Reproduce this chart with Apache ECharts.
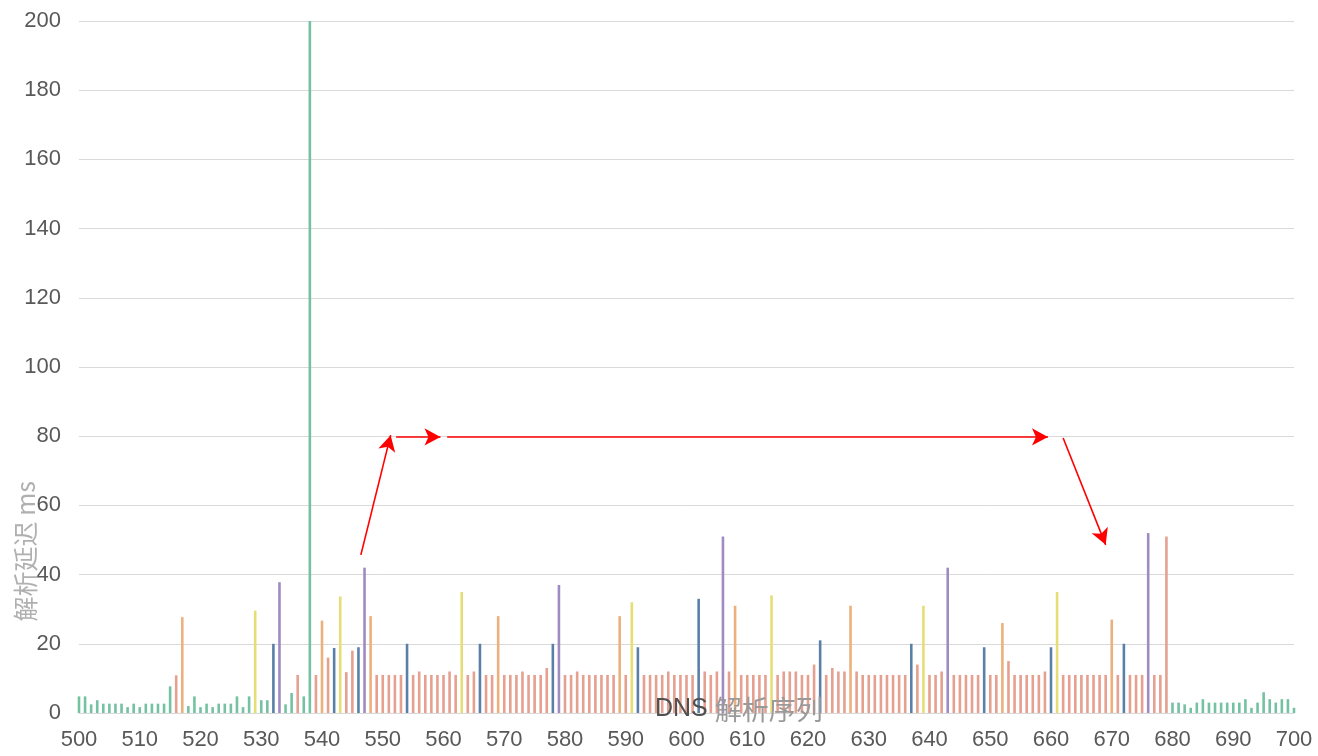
<!DOCTYPE html>
<html><head><meta charset="utf-8">
<script src="https://cdn.jsdelivr.net/npm/echarts@6/dist/echarts.min.js"></script>
<style>html,body{margin:0;padding:0;background:#fff}#c{width:1318px;height:756px}</style>
</head><body><div id="c"></div>
<script>
// DNS query sequence numbers 500..700
const sequence = [];
for (let s = 500; s <= 700; s++) sequence.push(s);

// resolution latency (ms), one per sequence number
const latency = [
  4.8,4.8,2.5,3.7,2.7,2.7,2.7,2.7,1.7,2.7,
  1.7,2.7,2.7,2.7,2.7,7.7,10.9,27.7,2,4.8,
  1.7,2.7,1.7,2.7,2.7,2.7,4.8,1.7,4.8,29.6,
  3.7,3.7,20,37.8,2.5,5.8,11,4.8,200,11,
  26.7,16,18.8,33.7,11.8,18,19,42,28,11,
  11,11,11,11,20,11,12,11,11,11,
  11,12,11,35,11,12,20,11,11,28,
  11,11,11,12,11,11,11,13,20,37,
  11,11,12,11,11,11,11,11,11,28,
  11,32,19,11,11,11,11,12,11,11,
  11,11,33,12,11,12,51,12,31,11,
  11,11,11,11,34,11,12,12,12,11,
  11,14,21,11,13,12,12,31,12,11,
  11,11,11,11,11,11,11,20,14,31,
  11,11,12,42,11,11,11,11,11,19,
  11,11,26,15,11,11,11,11,11,12,
  19,35,11,11,11,11,11,11,11,11,
  27,11,20,11,11,11,52,11,11,51,
  3,3,2.5,1.5,3,4,3,3,3,3,
  3,3,4,1.5,3,6,4,3,4,4,
  1.5
];

// which resolver group each query belongs to
const group = [
  'g','g','g','g','g','g','g','g','g','g',
  'g','g','g','g','g','g','r','o','g','g',
  'g','g','g','g','g','g','g','g','g','y',
  'g','g','b','p','g','g','r','g','g','r',
  'o','r','b','y','r','r','b','p','o','r',
  'r','r','r','r','b','r','r','r','r','r',
  'r','r','r','y','r','r','b','r','r','o',
  'r','r','r','r','r','r','r','r','b','p',
  'r','r','r','r','r','r','r','r','r','o',
  'r','y','b','r','r','r','r','r','r','r',
  'r','r','b','r','r','r','p','r','o','r',
  'r','r','r','r','y','r','r','r','r','r',
  'r','r','b','r','r','r','r','o','r','r',
  'r','r','r','r','r','r','r','b','r','y',
  'r','r','r','p','r','r','r','r','r','b',
  'r','r','o','r','r','r','r','r','r','r',
  'b','y','r','r','r','r','r','r','r','r',
  'o','r','b','r','r','r','p','r','r','r',
  'g','g','g','g','g','g','g','g','g','g',
  'g','g','g','g','g','g','g','g','g','g',
  'g'
];

const groupKeys = ['g','r','o','b','p','y'];
const yTicks = [0,20,40,60,80,100,120,140,160,180,200];

// annotation arrows in data coordinates [seq, ms]
const arrows = [
  [[546.4,45.7],[551.3,80.3]],
  [[552.2,79.8],[559.5,79.8]],
  [[560.6,79.8],[659.5,79.8]],
  [[662.0,79.5],[669.0,48.6]]
];

const palette = {g:'#74c2a2', r:'#e5a090', o:'#ecb07c', b:'#5a7fa8', p:'#a08ac2', y:'#e6de74'};

const series = groupKeys.map((k, idx) => {
  const data = [];
  sequence.forEach((s, i) => { if (group[i] === k) data.push([s, latency[i]]); });
  const sr = {
    type: 'bar', name: k, data: data, barWidth: 2.6, barGap: '-100%', clip: false,
    itemStyle: {color: palette[k]}, silent: true
  };
  if (idx === 0) {
    sr.markLine = {
      silent: true, symbol: ['none','arrow'], symbolSize: [13,16],
      label: {show: false},
      lineStyle: {color: '#ff0000', width: 1.6, type: 'solid'},
      data: arrows.map(a => [{coord: a[0]}, {coord: a[1]}])
    };
  }
  return sr;
});

const chart = echarts.init(document.getElementById('c'));
chart.setOption({
  animation: false,
  backgroundColor: '#ffffff',
  grid: {left: 79, right: 24, top: 21, bottom: 43, containLabel: false},
  xAxis: {
    type: 'value', min: 500, max: 700, interval: 10,
    axisLine: {show: false}, axisTick: {show: false}, splitLine: {show: false},
    axisLabel: {fontSize: 22, color: '#595959', margin: 16, fontFamily: 'Liberation Sans, Arial, sans-serif'}
  },
  yAxis: {
    type: 'value', min: 0, max: 200, interval: 20,
    axisLine: {show: false}, axisTick: {show: false},
    splitLine: {lineStyle: {color: '#d9d9d9', width: 1}},
    axisLabel: {fontSize: 22, color: '#595959', margin: 18, fontFamily: 'Liberation Sans, Arial, sans-serif',
      customValues: yTicks}
  },
  graphic: [
    {type: 'text', left: 13, top: 481, rotation: Math.PI/2, z: 10,
      style: {text: '解析延迟 ms', fill: '#b0b0b0', fontSize: 25,
        fontFamily: 'Noto Sans CJK SC, sans-serif'}},
    {type: 'text', left: 655, top: 696, z: 10,
      style: {rich: {a: {fill: '#505050', fontSize: 25, fontFamily: 'Liberation Sans, Arial, sans-serif'},
                      b: {fill: '#9a9a9a', fontSize: 27, fontFamily: 'Noto Sans CJK SC, sans-serif'}},
        text: '{a|DNS }{b|解析序列}'}}
  ],
  series: series
});
</script></body></html>
